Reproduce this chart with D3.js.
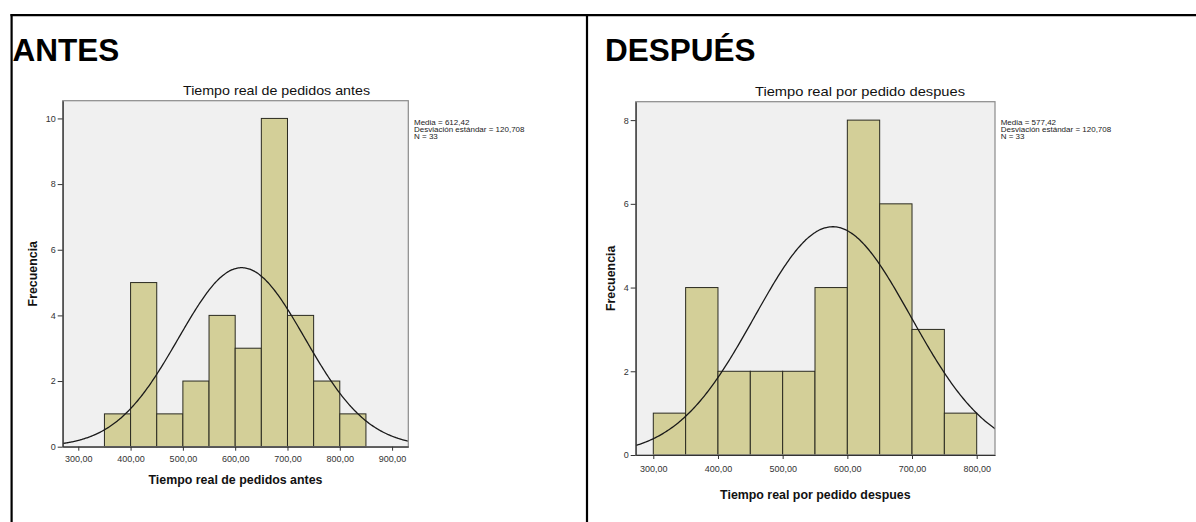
<!DOCTYPE html>
<html>
<head>
<meta charset="utf-8">
<script src="https://cdn.jsdelivr.net/npm/d3@7"></script>
<style>
  html, body { margin: 0; padding: 0; background: #ffffff; }
  svg { display: block; }
  text { font-family: "Liberation Sans", Arial, sans-serif; }
</style>
</head>
<body>
<svg id="chart" width="1196" height="522"></svg>
<script>
// Histogram data: bin start values (bin width 50) and frequencies
const binWidth = 50;
const binStartsAntes = [350, 400, 450, 500, 550, 600, 650, 700, 750, 800];
const countsAntes = [1, 5, 1, 2, 4, 3, 10, 4, 2, 1];
const binStartsDespues = [300, 350, 400, 450, 500, 550, 600, 650, 700, 750];
const countsDespues = [1, 4, 2, 2, 2, 4, 8, 6, 3, 1];

// Summary statistics shown beside each histogram
const meanAntes = 612.42, sdAntes = 120.708, nAntes = 33;
const meanDespues = 577.42, sdDespues = 120.708, nDespues = 33;

// Axis ticks
const xTicksAntes = [300, 400, 500, 600, 700, 800, 900];
const yTicksAntes = [0, 2, 4, 6, 8, 10];
const xTicksDespues = [300, 400, 500, 600, 700, 800];
const yTicksDespues = [0, 2, 4, 6, 8];

// Text
const headingAntes = "ANTES";
const headingDespues = "DESPUÉS";
const titleAntes = "Tiempo real de pedidos antes";
const titleDespues = "Tiempo real por pedido despues";
const yLabel = "Frecuencia";

const svg = d3.select("#chart");
const fmt2 = v => d3.format(".2f")(v).replace(".", ",");
const fmt3 = v => d3.format(".3f")(v).replace(".", ",");

// Table frame around the two panels
const frame = svg.append("g").attr("stroke", "#000").attr("stroke-width", 2.2);
frame.append("line").attr("x1", 10.5).attr("x2", 1196).attr("y1", 15.2).attr("y2", 15.2);
frame.append("line").attr("x1", 11.6).attr("x2", 11.6).attr("y1", 14).attr("y2", 522);
frame.append("line").attr("x1", 587).attr("x2", 587).attr("y1", 14).attr("y2", 522);

function drawPanel(p) {
  const g = svg.append("g");

  g.append("text")
    .attr("x", p.headX).attr("y", 60.5)
    .attr("font-size", 31.5).attr("font-weight", "bold").attr("fill", "#000")
    .text(p.heading);

  const x = d3.scaleLinear().domain(p.xDomain).range([p.left, p.right]);
  const y = d3.scaleLinear().domain(p.yDomain).range([p.bottom, p.top]);

  // chart title
  g.append("text")
    .attr("x", p.titleX).attr("y", p.titleY)
    .attr("font-size", 13).attr("fill", "#111")
    .attr("textLength", p.titleLen).attr("lengthAdjust", "spacingAndGlyphs")
    .text(p.title);

  // plot background
  g.append("rect")
    .attr("x", p.left).attr("y", p.top)
    .attr("width", p.right - p.left).attr("height", p.bottom - p.top)
    .attr("fill", "#f0f0f0");

  // bars
  g.append("g").selectAll("rect")
    .data(p.starts.map((s, i) => ({ s, c: p.counts[i] })))
    .join("rect")
    .attr("x", d => x(d.s))
    .attr("y", d => y(d.c))
    .attr("width", d => x(d.s + binWidth) - x(d.s))
    .attr("height", d => y(0) - y(d.c))
    .attr("fill", "#d3cf98")
    .attr("stroke", "#2a2a20")
    .attr("stroke-width", 1);

  // normal curve scaled to the histogram (N * bin width * density)
  const clipId = "clip-" + p.id;
  g.append("clipPath").attr("id", clipId).append("rect")
    .attr("x", p.left).attr("y", p.top)
    .attr("width", p.right - p.left).attr("height", p.bottom - p.top);
  const dens = v => p.n * binWidth / (p.sd * Math.sqrt(2 * Math.PI)) *
    Math.exp(-0.5 * Math.pow((v - p.mean) / p.sd, 2));
  const xs = d3.range(p.xDomain[0], p.xDomain[1] + 1, 2);
  g.append("path")
    .attr("clip-path", `url(#${clipId})`)
    .attr("d", d3.line().x(v => x(v)).y(v => y(dens(v))).curve(d3.curveBasis)(xs))
    .attr("fill", "none").attr("stroke", "#1a1a1a").attr("stroke-width", 1.3);

  // plot frame
  g.append("rect")
    .attr("x", p.left).attr("y", p.top)
    .attr("width", p.right - p.left).attr("height", p.bottom - p.top)
    .attr("fill", "none").attr("stroke", "#8a8a8a").attr("stroke-width", 1.2);

  // axes
  const xAxis = d3.axisBottom(x).tickValues(p.xTicks).tickFormat(fmt2)
    .tickSizeInner(4).tickSizeOuter(0).tickPadding(p.xPad);
  const ax = g.append("g").attr("transform", `translate(0,${p.bottom})`).call(xAxis);
  ax.select(".domain").attr("stroke", "#333").attr("stroke-width", 1.2);
  ax.selectAll(".tick line").attr("stroke", "#333");
  ax.selectAll(".tick text").attr("font-size", 9).attr("fill", "#333")
    .attr("font-family", "'Liberation Sans', Arial, sans-serif");

  const yAxis = d3.axisLeft(y).tickValues(p.yTicks).tickFormat(d3.format("d"))
    .tickSizeInner(5).tickSizeOuter(0).tickPadding(2);
  const ay = g.append("g").attr("transform", `translate(${p.left},0)`).call(yAxis);
  ay.select(".domain").attr("stroke", "#333").attr("stroke-width", 1.2);
  ay.selectAll(".tick line").attr("stroke", "#333");
  ay.selectAll(".tick text").attr("font-size", 9).attr("fill", "#333")
    .attr("font-family", "'Liberation Sans', Arial, sans-serif");

  // axis titles
  g.append("text")
    .attr("x", (p.left + p.right) / 2).attr("y", p.xTitleY)
    .attr("text-anchor", "middle").attr("font-size", 12.4)
    .attr("font-weight", "bold").attr("fill", "#111")
    .text(p.title);

  g.append("text")
    .attr("transform", `translate(${p.yTitleX},${(p.top + p.bottom) / 2}) rotate(-90)`)
    .attr("text-anchor", "middle").attr("font-size", 12.4)
    .attr("font-weight", "bold").attr("fill", "#111")
    .text(yLabel);

  // summary statistics: small, tightly stacked lines, each kept at its 8px width
  const stats = [
    "Media = " + fmt2(p.mean),
    "Desviación estándar = " + fmt3(p.sd),
    "N = " + p.n
  ];
  const st = g.append("g").selectAll("text").data(stats).join("text")
    .attr("x", p.right + 5.7)
    .attr("y", (d, i) => 124.6 + i * 7.3)
    .attr("font-size", 8).attr("fill", "#222")
    .text(d => d);
  st.each(function () {
    const w = this.getComputedTextLength();
    d3.select(this).attr("font-size", 6.3)
      .attr("textLength", w).attr("lengthAdjust", "spacingAndGlyphs");
  });
}

drawPanel({
  id: "antes", heading: headingAntes, headX: 12.5,
  title: titleAntes, titleX: 183, titleY: 95, titleLen: 187,
  left: 62.7, right: 408.3, top: 100.7, bottom: 446.7,
  xDomain: [270.2, 931], yDomain: [0, 10.54],
  starts: binStartsAntes, counts: countsAntes,
  mean: meanAntes, sd: sdAntes, n: nAntes,
  xTicks: xTicksAntes, yTicks: yTicksAntes,
  xPad: 5, xTitleY: 484, yTitleX: 37
});

drawPanel({
  id: "despues", heading: headingDespues, headX: 605,
  title: titleDespues, titleX: 755, titleY: 96, titleLen: 210,
  left: 635.7, right: 995, top: 101.7, bottom: 455,
  xDomain: [272.8, 828.3], yDomain: [0, 8.44],
  starts: binStartsDespues, counts: countsDespues,
  mean: meanDespues, sd: sdDespues, n: nDespues,
  xTicks: xTicksDespues, yTicks: yTicksDespues,
  xPad: 7, xTitleY: 499, yTitleX: 614.5
});
</script>
</body>
</html>
